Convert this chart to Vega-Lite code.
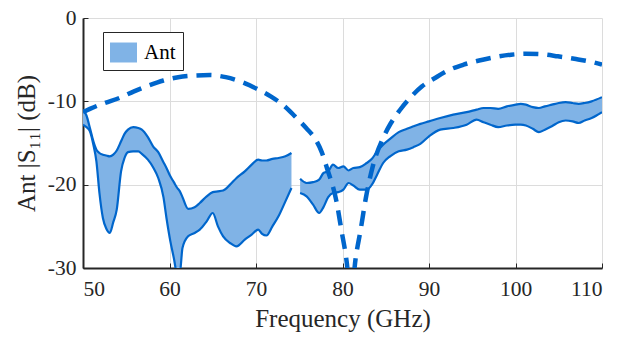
{
  "$schema": "https://vega.github.io/schema/vega-lite/v6.json",
  "autosize": "none",
  "width": 519,
  "height": 250,
  "padding": {"left": 83, "top": 18, "right": 19, "bottom": 71},
  "background": "white",
  "datasets": {
    "band": [
      {"seg": "a", "f": 50.0, "lo": -12.8, "hi": -11.0},
      {"seg": "a", "f": 50.4, "lo": -13.1, "hi": -11.7},
      {"seg": "a", "f": 50.8, "lo": -13.6, "hi": -13.2},
      {"seg": "a", "f": 51.2, "lo": -15.2, "hi": -14.8},
      {"seg": "a", "f": 51.55, "lo": -17.2, "hi": -15.8},
      {"seg": "a", "f": 51.9, "lo": -21.0, "hi": -16.2},
      {"seg": "a", "f": 52.3, "lo": -24.0, "hi": -16.4},
      {"seg": "a", "f": 52.7, "lo": -25.3, "hi": -16.5},
      {"seg": "a", "f": 53.1, "lo": -25.8, "hi": -16.6},
      {"seg": "a", "f": 53.5, "lo": -24.5, "hi": -16.4},
      {"seg": "a", "f": 53.9, "lo": -23.0, "hi": -15.9},
      {"seg": "a", "f": 54.4, "lo": -18.4, "hi": -14.8},
      {"seg": "a", "f": 54.8, "lo": -16.8, "hi": -13.9},
      {"seg": "a", "f": 55.2, "lo": -16.1, "hi": -13.4},
      {"seg": "a", "f": 55.8, "lo": -16.0, "hi": -13.1},
      {"seg": "a", "f": 56.4, "lo": -16.0, "hi": -13.2},
      {"seg": "a", "f": 56.8, "lo": -16.3, "hi": -13.4},
      {"seg": "a", "f": 57.5, "lo": -17.0, "hi": -14.3},
      {"seg": "a", "f": 58.1, "lo": -17.9, "hi": -15.4},
      {"seg": "a", "f": 58.7, "lo": -19.2, "hi": -16.1},
      {"seg": "a", "f": 59.3, "lo": -21.5, "hi": -17.3},
      {"seg": "a", "f": 59.65, "lo": -24.0, "hi": -18.0},
      {"seg": "a", "f": 60.1, "lo": -26.8, "hi": -19.0},
      {"seg": "a", "f": 60.5, "lo": -28.8, "hi": -19.7},
      {"seg": "a", "f": 60.9, "lo": -30.8, "hi": -20.4},
      {"seg": "a", "f": 61.2, "lo": -30.6, "hi": -20.8},
      {"seg": "a", "f": 61.5, "lo": -27.6, "hi": -21.5},
      {"seg": "a", "f": 62.15, "lo": -26.2, "hi": -22.9},
      {"seg": "a", "f": 62.9, "lo": -25.8, "hi": -22.7},
      {"seg": "a", "f": 63.5, "lo": -25.4, "hi": -22.2},
      {"seg": "a", "f": 64.3, "lo": -24.4, "hi": -21.4},
      {"seg": "a", "f": 65.0, "lo": -23.4, "hi": -20.9},
      {"seg": "a", "f": 65.6, "lo": -25.0, "hi": -20.8},
      {"seg": "a", "f": 66.2, "lo": -26.2, "hi": -20.7},
      {"seg": "a", "f": 67.0, "lo": -27.0, "hi": -20.0},
      {"seg": "a", "f": 67.75, "lo": -27.4, "hi": -19.2},
      {"seg": "a", "f": 68.7, "lo": -26.6, "hi": -18.4},
      {"seg": "a", "f": 69.5, "lo": -26.0, "hi": -17.6},
      {"seg": "a", "f": 70.25, "lo": -25.4, "hi": -17.0},
      {"seg": "a", "f": 70.7, "lo": -25.9, "hi": -17.1},
      {"seg": "a", "f": 71.2, "lo": -26.1, "hi": -17.1},
      {"seg": "a", "f": 71.9, "lo": -25.0, "hi": -16.9},
      {"seg": "a", "f": 72.6, "lo": -23.8, "hi": -16.8},
      {"seg": "a", "f": 73.4, "lo": -22.0, "hi": -16.6},
      {"seg": "a", "f": 74.1, "lo": -20.4, "hi": -16.2},
      {"seg": "b", "f": 75.1, "lo": -21.0, "hi": -19.3},
      {"seg": "b", "f": 75.85, "lo": -21.4, "hi": -19.8},
      {"seg": "b", "f": 76.6, "lo": -22.4, "hi": -19.7},
      {"seg": "b", "f": 77.3, "lo": -23.4, "hi": -19.4},
      {"seg": "b", "f": 77.8, "lo": -22.7, "hi": -18.6},
      {"seg": "b", "f": 78.35, "lo": -21.5, "hi": -18.4},
      {"seg": "b", "f": 78.9, "lo": -21.0, "hi": -17.6},
      {"seg": "b", "f": 79.5, "lo": -20.9, "hi": -18.0},
      {"seg": "b", "f": 80.1, "lo": -20.6, "hi": -17.8},
      {"seg": "b", "f": 80.7, "lo": -19.8, "hi": -18.3},
      {"seg": "b", "f": 81.25, "lo": -20.1, "hi": -18.0},
      {"seg": "b", "f": 82.0, "lo": -20.6, "hi": -17.9},
      {"seg": "b", "f": 82.8, "lo": -20.6, "hi": -17.4},
      {"seg": "b", "f": 83.4, "lo": -20.0, "hi": -16.9},
      {"seg": "b", "f": 84.0, "lo": -18.8, "hi": -16.0},
      {"seg": "b", "f": 84.7, "lo": -17.4, "hi": -15.2},
      {"seg": "b", "f": 85.5, "lo": -16.6, "hi": -14.5},
      {"seg": "b", "f": 86.5, "lo": -16.0, "hi": -13.7},
      {"seg": "b", "f": 87.45, "lo": -15.8, "hi": -13.3},
      {"seg": "b", "f": 88.2, "lo": -15.5, "hi": -13.0},
      {"seg": "b", "f": 89.0, "lo": -15.1, "hi": -12.7},
      {"seg": "b", "f": 90.0, "lo": -14.2, "hi": -12.4},
      {"seg": "b", "f": 91.3, "lo": -13.4, "hi": -12.0},
      {"seg": "b", "f": 92.8, "lo": -13.2, "hi": -11.6},
      {"seg": "b", "f": 94.35, "lo": -12.8, "hi": -11.3},
      {"seg": "b", "f": 95.5, "lo": -12.2, "hi": -11.0},
      {"seg": "b", "f": 96.3, "lo": -12.5, "hi": -10.8},
      {"seg": "b", "f": 97.1, "lo": -12.8, "hi": -10.8},
      {"seg": "b", "f": 98.0, "lo": -13.1, "hi": -10.9},
      {"seg": "b", "f": 99.0, "lo": -12.9, "hi": -10.6},
      {"seg": "b", "f": 100.0, "lo": -12.8, "hi": -10.4},
      {"seg": "b", "f": 100.6, "lo": -12.8, "hi": -10.3},
      {"seg": "b", "f": 101.2, "lo": -12.9, "hi": -10.4},
      {"seg": "b", "f": 102.0, "lo": -13.3, "hi": -10.7},
      {"seg": "b", "f": 102.7, "lo": -13.7, "hi": -10.8},
      {"seg": "b", "f": 103.4, "lo": -13.4, "hi": -10.6},
      {"seg": "b", "f": 104.2, "lo": -13.0, "hi": -10.4},
      {"seg": "b", "f": 105.0, "lo": -12.5, "hi": -10.2},
      {"seg": "b", "f": 105.8, "lo": -12.3, "hi": -10.1},
      {"seg": "b", "f": 106.6, "lo": -12.4, "hi": -10.2},
      {"seg": "b", "f": 107.3, "lo": -12.6, "hi": -10.3},
      {"seg": "b", "f": 108.0, "lo": -12.3, "hi": -10.2},
      {"seg": "b", "f": 108.8, "lo": -12.0, "hi": -10.0},
      {"seg": "b", "f": 110.0, "lo": -11.3, "hi": -9.5}
    ],
    "model": [
      {"f": 50.0, "s11": -11.3},
      {"f": 50.8, "s11": -10.9},
      {"f": 52.5, "s11": -10.2},
      {"f": 54.2, "s11": -9.6},
      {"f": 55.9, "s11": -8.8},
      {"f": 57.6, "s11": -8.1},
      {"f": 59.3, "s11": -7.5},
      {"f": 61.0, "s11": -7.1},
      {"f": 62.9, "s11": -6.9},
      {"f": 64.7, "s11": -6.85},
      {"f": 66.5, "s11": -7.1},
      {"f": 68.4, "s11": -7.7},
      {"f": 70.1, "s11": -8.5},
      {"f": 71.7, "s11": -9.4},
      {"f": 73.2, "s11": -10.5},
      {"f": 74.5, "s11": -11.8},
      {"f": 75.8, "s11": -13.2},
      {"f": 76.9, "s11": -14.6},
      {"f": 77.6, "s11": -16.1},
      {"f": 78.2, "s11": -18.0},
      {"f": 79.3, "s11": -22.0},
      {"f": 79.9, "s11": -25.6},
      {"f": 80.5, "s11": -29.4},
      {"f": 80.95, "s11": -34.0},
      {"f": 81.5, "s11": -29.0},
      {"f": 82.1, "s11": -25.4},
      {"f": 82.7, "s11": -21.6},
      {"f": 83.5, "s11": -17.8},
      {"f": 84.7, "s11": -14.4},
      {"f": 85.6, "s11": -12.6},
      {"f": 86.6, "s11": -11.1},
      {"f": 87.8, "s11": -9.6},
      {"f": 89.2, "s11": -8.2},
      {"f": 90.7, "s11": -7.2},
      {"f": 92.2, "s11": -6.3},
      {"f": 94.0, "s11": -5.6},
      {"f": 95.8, "s11": -5.1},
      {"f": 97.6, "s11": -4.7},
      {"f": 99.5, "s11": -4.4},
      {"f": 101.2, "s11": -4.3},
      {"f": 103.0, "s11": -4.35},
      {"f": 104.9, "s11": -4.6},
      {"f": 106.8, "s11": -4.9},
      {"f": 108.5, "s11": -5.2},
      {"f": 110.0, "s11": -5.6}
    ]
  },
  "encoding": {
    "x": {
      "field": "f",
      "type": "quantitative",
      "scale": {"domain": [50, 110], "nice": false, "zero": false},
      "axis": {
        "values": [50, 60, 70, 80, 90, 100, 110],
        "title": "Frequency (GHz)",
        "labelFont": "Liberation Serif",
        "labelPadding": 15,
        "titlePadding": 7
      }
    }
  },
  "layer": [
    {
      "data": {"name": "band"},
      "mark": {"type": "area", "interpolate": "monotone", "clip": true},
      "encoding": {
        "y": {
          "field": "lo",
          "type": "quantitative",
          "scale": {"domain": [-30, 0], "nice": false, "zero": false},
          "axis": {
            "values": [-30, -20, -10, 0],
            "labelExpr": "'' + datum.value",
            "labelFont": "Liberation Serif",
            "title": "Ant |S₁₁| (dB)",
            "labelPadding": 12,
            "titlePadding": 8
          }
        },
        "y2": {"field": "hi"},
        "detail": {"field": "seg"},
        "color": {
          "datum": "Ant",
          "scale": {"domain": ["Ant"], "range": ["#80b3e6"]},
          "legend": {
            "title": null,
            "orient": "none",
            "legendX": 20,
            "legendY": 14,
            "fillColor": "white",
            "strokeColor": "#262626",
            "padding": 7,
            "symbolType": "M-1,-0.74H1V0.74H-1Z",
            "symbolSize": 729,
            "symbolStrokeWidth": 0,
            "labelFont": "Liberation Serif",
            "labelFontSize": 21,
            "labelColor": "#000000",
            "labelOffset": 7
          }
        }
      }
    },
    {
      "data": {"name": "band"},
      "mark": {"type": "line", "interpolate": "monotone", "clip": true, "color": "#0066cc", "strokeWidth": 2.2},
      "encoding": {
        "y": {"field": "hi", "type": "quantitative"},
        "detail": {"field": "seg"}
      }
    },
    {
      "data": {"name": "band"},
      "mark": {"type": "line", "interpolate": "monotone", "clip": true, "color": "#0066cc", "strokeWidth": 2.2},
      "encoding": {
        "y": {"field": "lo", "type": "quantitative"},
        "detail": {"field": "seg"}
      }
    },
    {
      "data": {"name": "model"},
      "mark": {"type": "line", "interpolate": "monotone", "clip": true, "color": "#0066cc", "strokeWidth": 4.5, "strokeDash": [15, 9], "strokeCap": "butt"},
      "encoding": {
        "y": {"field": "s11", "type": "quantitative"}
      }
    }
  ],
  "config": {
    "font": "Liberation Serif",
    "view": {"stroke": null},
    "axis": {
      "grid": true,
      "gridColor": "#dcdcdc",
      "gridWidth": 1,
      "domainColor": "#262626",
      "domainWidth": 2,
      "tickColor": "#262626",
      "tickSize": -5,
      "tickWidth": 1,
      "labelFont": "Liberation Serif",
      "labelFontSize": 21.5,
      "labelColor": "#262626",
      "titleFont": "Liberation Serif",
      "titleFontSize": 25,
      "titleFontWeight": "normal",
      "titleColor": "#262626"
    }
  }
}
